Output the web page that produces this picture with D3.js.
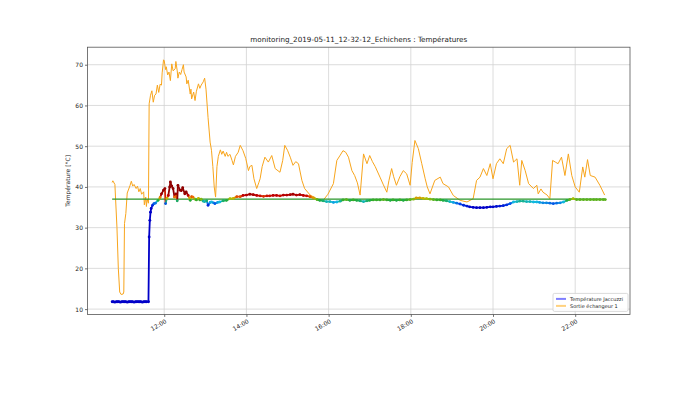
<html lang="fr">

<head>
  <meta charset="utf-8">
  <title>monitoring Echichens</title>
  <script src="https://cdn.jsdelivr.net/npm/d3@7"></script>
  <style>
    body { margin: 0; background: #fff; }
    text { font-family: "DejaVu Sans", sans-serif; fill: #222; }
  </style>
</head>

<body>
  <svg width="700" height="393"></svg>
  <script>
    const titre = "monitoring_2019-05-11_12-32-12_Echichens : Températures";
    const yTicks = [10, 20, 30, 40, 50, 60, 70];
    const xTicks = ["12:00", "14:00", "16:00", "18:00", "20:00", "22:00"];

    // consigne (ligne verte)
    const consigne = [["10:44", 37], ["22:44", 37]];

    // Température Jaccuzzi
    const jaccuzzi = [
      ["10:44", 11.8], ["10:46", 11.8], ["10:48", 11.7], ["10:50", 11.8], ["10:52", 11.8],
      ["10:54", 11.8], ["10:56", 11.7], ["10:58", 11.8], ["11:00", 11.8], ["11:02", 11.8],
      ["11:04", 11.8], ["11:06", 11.7], ["11:08", 11.8], ["11:10", 11.8], ["11:12", 11.8],
      ["11:14", 11.8], ["11:16", 11.7], ["11:18", 11.8], ["11:20", 11.8], ["11:22", 11.8],
      ["11:24", 11.8], ["11:26", 11.8], ["11:28", 11.7], ["11:30", 11.8], ["11:32", 11.8],
      ["11:34", 11.8], ["11:37", 11.8],
      ["11:38", 27.7], ["11:39", 31.8], ["11:40", 33.8], ["11:41", 34.7], ["11:43", 35.5],
      ["11:45", 35.9], ["11:47", 36.0], ["11:51", 36.7], ["11:54", 37.4], ["11:56", 38.3],
      ["11:59", 39.2], ["12:01", 39.6], ["12:02", 35.9], ["12:04", 37.2], ["12:06", 37.9],
      ["12:08", 40.0], ["12:09", 41.2], ["12:11", 40.2], ["12:13", 39.6], ["12:15", 37.5],
      ["12:17", 38.3], ["12:19", 36.6], ["12:20", 40.4], ["12:23", 39.2], ["12:25", 39.1],
      ["12:27", 39.8], ["12:30", 38.3], ["12:32", 38.8], ["12:35", 37.9], ["12:38", 36.7],
      ["12:40", 37.6], ["12:42", 37.5], ["12:45", 37.0], ["12:47", 36.8], ["12:50", 37.2],
      ["12:52", 36.8], ["12:54", 37.0], ["12:57", 36.5], ["12:59", 36.4], ["13:02", 36.6],
      ["13:04", 35.5], ["13:07", 36.2], ["13:09", 36.3], ["13:12", 36.1], ["13:14", 35.9],
      ["13:18", 36.2], ["13:21", 36.3], ["13:26", 36.6], ["13:31", 36.7], ["13:36", 37.1],
      ["13:41", 37.2], ["13:46", 37.6], ["13:51", 37.6], ["13:55", 37.9], ["14:00", 38.0],
      ["14:05", 38.2], ["14:10", 38.1], ["14:15", 37.9], ["14:20", 37.8], ["14:25", 37.7],
      ["14:30", 37.8], ["14:34", 37.8], ["14:39", 37.9], ["14:44", 37.9], ["14:49", 37.8],
      ["14:54", 38.0], ["14:59", 38.0], ["15:04", 38.1], ["15:08", 38.2], ["15:13", 38.0],
      ["15:18", 38.1], ["15:23", 37.9], ["15:28", 37.8], ["15:33", 37.6], ["15:38", 37.3],
      ["15:43", 36.9], ["15:47", 36.7], ["15:52", 36.6], ["15:57", 36.4], ["16:02", 36.4],
      ["16:07", 36.2], ["16:12", 36.3], ["16:17", 36.5], ["16:21", 36.8], ["16:26", 36.9],
      ["16:31", 36.7], ["16:36", 36.8], ["16:41", 36.7], ["16:46", 36.6], ["16:51", 36.4],
      ["16:56", 36.6], ["17:00", 36.7], ["17:05", 36.8], ["17:10", 36.8], ["17:15", 36.8],
      ["17:20", 36.9], ["17:25", 36.8], ["17:30", 36.7], ["17:34", 36.8], ["17:39", 36.7],
      ["17:44", 36.8], ["17:49", 36.7], ["17:54", 36.8], ["17:59", 36.9], ["18:04", 37.0],
      ["18:08", 37.3], ["18:13", 37.3], ["18:18", 37.2], ["18:23", 37.1], ["18:28", 37.0],
      ["18:33", 36.9], ["18:38", 36.8], ["18:43", 36.8], ["18:47", 36.7], ["18:52", 36.6],
      ["18:57", 36.4], ["19:02", 36.2], ["19:07", 36.0], ["19:12", 35.8], ["19:17", 35.5],
      ["19:22", 35.3], ["19:26", 35.1], ["19:31", 35.0], ["19:36", 34.9], ["19:41", 34.9],
      ["19:46", 34.9], ["19:51", 35.0], ["19:56", 35.1], ["20:00", 35.1], ["20:05", 35.2],
      ["20:10", 35.3], ["20:15", 35.4], ["20:20", 35.6], ["20:25", 35.9], ["20:30", 36.3],
      ["20:35", 36.4], ["20:39", 36.5], ["20:44", 36.5], ["20:49", 36.4], ["20:54", 36.4],
      ["20:59", 36.3], ["21:04", 36.3], ["21:08", 36.2], ["21:13", 36.1], ["21:18", 36.1],
      ["21:23", 36.0], ["21:28", 35.9], ["21:33", 36.0], ["21:38", 36.1], ["21:43", 36.3],
      ["21:48", 36.7], ["21:52", 36.9], ["21:57", 37.1], ["22:02", 36.9], ["22:07", 36.9],
      ["22:12", 36.9], ["22:17", 36.9], ["22:22", 36.9], ["22:27", 36.9], ["22:31", 36.9],
      ["22:36", 36.9], ["22:41", 36.9], ["22:44", 36.9]
    ];

    // Sortie échangeur 1
    const sortie = [
      ["10:44", 41.1], ["10:45", 41.5], ["10:48", 40.6], ["10:51", 30.0], ["10:53", 20.0],
      ["10:55", 14.2], ["10:57", 13.6], ["11:00", 13.7], ["11:01", 14.2], ["11:02", 31.0],
      ["11:04", 33.5], ["11:06", 38.5], ["11:10", 40.3], ["11:12", 41.4], ["11:14", 40.2],
      ["11:16", 40.6], ["11:19", 39.6], ["11:21", 40.2], ["11:23", 38.8], ["11:25", 39.6],
      ["11:27", 38.2], ["11:30", 38.8], ["11:31", 35.6], ["11:33", 37.5], ["11:34", 35.2],
      ["11:35", 37.0], ["11:37", 36.0], ["11:38", 60.4], ["11:40", 62.5], ["11:42", 63.6],
      ["11:44", 60.8], ["11:46", 62.5], ["11:48", 62.8], ["11:50", 65.0], ["11:52", 63.2],
      ["11:54", 65.2], ["11:56", 65.0], ["11:57", 68.0], ["11:59", 71.2], ["12:00", 71.0],
      ["12:02", 68.8], ["12:03", 69.5], ["12:05", 67.5], ["12:07", 68.2], ["12:09", 66.1],
      ["12:11", 70.2], ["12:13", 68.5], ["12:16", 69.0], ["12:17", 70.8], ["12:19", 68.5],
      ["12:20", 66.7], ["12:22", 68.2], ["12:24", 67.6], ["12:26", 68.8], ["12:28", 70.0],
      ["12:29", 68.2], ["12:32", 67.0], ["12:33", 65.3], ["12:35", 66.2], ["12:38", 62.8],
      ["12:39", 64.0], ["12:40", 61.6], ["12:43", 63.3], ["12:45", 61.2], ["12:47", 63.5],
      ["12:50", 65.3], ["12:52", 64.2], ["12:54", 65.0], ["12:57", 65.8], ["12:59", 66.7],
      ["13:01", 64.0], ["13:04", 57.0], ["13:07", 51.0], ["13:09", 49.0], ["13:11", 45.0],
      ["13:13", 40.0], ["13:15", 37.5], ["13:17", 45.0], ["13:19", 47.5], ["13:22", 49.1],
      ["13:24", 48.0], ["13:26", 48.8], ["13:29", 47.5], ["13:31", 48.5], ["13:33", 47.5],
      ["13:36", 48.0], ["13:39", 46.5], ["13:41", 45.4], ["13:44", 47.5], ["13:48", 48.5],
      ["13:51", 50.2], ["13:55", 48.9], ["13:59", 47.0], ["14:03", 44.0], ["14:05", 45.0],
      ["14:08", 45.3], ["14:11", 42.0], ["14:15", 39.6], ["14:18", 41.0], ["14:20", 42.0],
      ["14:23", 45.0], ["14:27", 47.3], ["14:32", 46.1], ["14:37", 47.7], ["14:42", 44.5],
      ["14:49", 43.6], ["14:53", 46.5], ["14:56", 50.2], ["15:00", 49.0], ["15:04", 47.3],
      ["15:08", 45.3], ["15:12", 46.2], ["15:16", 45.7], ["15:21", 41.6], ["15:25", 39.6],
      ["15:33", 38.0], ["15:43", 37.1], ["15:52", 36.7], ["15:59", 38.2], ["16:07", 40.8],
      ["16:12", 46.5], ["16:17", 47.8], ["16:21", 48.9], ["16:25", 48.5], ["16:29", 47.3],
      ["16:34", 44.0], ["16:38", 42.8], ["16:42", 41.0], ["16:46", 38.0], ["16:51", 48.1],
      ["16:56", 45.7], ["17:00", 47.7], ["17:04", 46.2], ["17:08", 45.0], ["17:15", 42.4],
      ["17:20", 40.5], ["17:25", 38.7], ["17:28", 41.5], ["17:32", 44.5], ["17:35", 42.5],
      ["17:39", 40.4], ["17:44", 42.5], ["17:49", 44.0], ["17:54", 43.2], ["17:59", 40.4],
      ["18:02", 46.0], ["18:06", 51.4], ["18:11", 49.4], ["18:16", 45.7], ["18:21", 42.0],
      ["18:24", 40.0], ["18:28", 38.3], ["18:35", 41.6], ["18:43", 42.4], ["18:47", 40.8],
      ["18:55", 40.0], ["19:02", 37.9], ["19:12", 36.7], ["19:22", 36.3], ["19:31", 37.1],
      ["19:36", 41.6], ["19:41", 42.4], ["19:46", 44.5], ["19:51", 42.8], ["19:56", 45.7],
      ["20:00", 42.0], ["20:05", 45.7], ["20:10", 46.9], ["20:15", 45.7], ["20:20", 49.4],
      ["20:25", 50.2], ["20:30", 46.1], ["20:35", 46.9], ["20:39", 40.4], ["20:42", 46.5],
      ["20:47", 44.0], ["20:52", 40.8], ["20:59", 39.6], ["21:04", 40.4], ["21:06", 38.3],
      ["21:10", 39.5], ["21:13", 38.7], ["21:19", 38.0], ["21:23", 37.1], ["21:27", 46.5],
      ["21:31", 46.1], ["21:35", 45.7], ["21:40", 47.3], ["21:45", 42.8], ["21:50", 48.1],
      ["21:55", 42.8], ["22:00", 40.0], ["22:06", 38.7], ["22:11", 44.9], ["22:14", 42.4],
      ["22:18", 46.7], ["22:22", 42.8], ["22:29", 42.4], ["22:36", 40.4], ["22:43", 38.0]
    ];

    const legendItems = ["Température Jaccuzzi", "Sortie échangeur 1"];

    const parseTime = d3.timeParse("%H:%M");
    const plotLeft = 87.5, plotRight = 630, plotTop = 47.2, plotBottom = 314.4;

    const svg = d3.select("svg");

    const x = d3.scaleTime()
      .domain([parseTime("10:08"), parseTime("23:20")])
      .range([plotLeft, plotRight]);
    const y = d3.scaleLinear()
      .domain([8.7, 74.3])
      .range([plotBottom, plotTop]);

    // échelle de couleur (bleu -> cyan -> vert -> jaune -> rouge foncé)
    const color = d3.scaleLinear()
      .domain([35.0, 35.8, 36.3, 36.75, 37.15, 37.5, 37.85, 38.4])
      .range(["#0000c8", "#0040e8", "#10b8e0", "#22aa30", "#bcc000", "#f07000", "#c40000", "#900000"])
      .clamp(true);

    // grid
    svg.append("g")
      .selectAll("line")
      .data(yTicks)
      .enter()
      .append("line")
      .attr("x1", plotLeft).attr("x2", plotRight)
      .attr("y1", d => y(d)).attr("y2", d => y(d))
      .attr("stroke", "#d3d3d3").attr("stroke-width", 0.8);
    svg.append("g")
      .selectAll("line")
      .data(xTicks)
      .enter()
      .append("line")
      .attr("x1", d => x(parseTime(d))).attr("x2", d => x(parseTime(d)))
      .attr("y1", plotTop).attr("y2", plotBottom)
      .attr("stroke", "#d3d3d3").attr("stroke-width", 0.8);

    const line = d3.line()
      .x(d => x(parseTime(d[0])))
      .y(d => y(d[1]));

    svg.append("path")
      .datum(sortie)
      .attr("d", line)
      .attr("fill", "none")
      .attr("stroke", "#f8a51c")
      .attr("stroke-width", 1);

    svg.append("path")
      .datum(consigne)
      .attr("d", line)
      .attr("fill", "none")
      .attr("stroke", "#2a962a")
      .attr("stroke-width", 1.2);

    // jaccuzzi : segments colorés
    const segments = d3.pairs(jaccuzzi);
    svg.append("g")
      .selectAll("line")
      .data(segments)
      .enter()
      .append("line")
      .attr("x1", d => x(parseTime(d[0][0])))
      .attr("y1", d => y(d[0][1]))
      .attr("x2", d => x(parseTime(d[1][0])))
      .attr("y2", d => y(d[1][1]))
      .attr("stroke", d => color((d[0][1] + d[1][1]) / 2))
      .attr("stroke-width", 1.8)
      .attr("stroke-linecap", "round");

    svg.append("g")
      .selectAll("circle")
      .data(jaccuzzi)
      .enter()
      .append("circle")
      .attr("cx", d => x(parseTime(d[0])))
      .attr("cy", d => y(d[1]))
      .attr("r", 1.4)
      .attr("fill", d => color(d[1]));

    // axes
    const yAxis = svg.append("g")
      .attr("transform", `translate(${plotLeft},0)`)
      .call(d3.axisLeft(y).tickValues(yTicks).tickSize(2.5).tickPadding(2).tickFormat(d3.format("d")));
    const xAxis = svg.append("g")
      .attr("transform", `translate(0,${plotBottom})`)
      .call(d3.axisBottom(x).tickValues(xTicks.map(parseTime)).tickSize(2.5).tickFormat(d3.timeFormat("%H:%M")));
    [yAxis, xAxis].forEach(a => {
      a.select(".domain").remove();
      a.selectAll("line").attr("stroke", "#333").attr("stroke-width", 0.7);
      a.selectAll("text").attr("font-size", 6).attr("font-family", "DejaVu Sans").attr("fill", "#222");
    });
    xAxis.selectAll("text")
      .attr("text-anchor", "end")
      .attr("dy", null)
      .attr("y", null)
      .attr("transform", "translate(0,4) rotate(-30)")
      .attr("dominant-baseline", "hanging");

    svg.append("rect")
      .attr("x", plotLeft).attr("y", plotTop)
      .attr("width", plotRight - plotLeft).attr("height", plotBottom - plotTop)
      .attr("fill", "none")
      .attr("stroke", "#555")
      .attr("stroke-width", 0.8);

    svg.append("text")
      .attr("x", (plotLeft + plotRight) / 2)
      .attr("y", plotTop - 5)
      .attr("text-anchor", "middle")
      .attr("font-size", 7.2)
      .text(titre);

    svg.append("text")
      .attr("transform", `translate(70,${(plotTop + plotBottom) / 2}) rotate(-90)`)
      .attr("text-anchor", "middle")
      .attr("font-size", 6)
      .text("Température [°C]");

    // legend
    const legend = svg.append("g").attr("transform", `translate(${plotRight - 77},${plotBottom - 21})`);
    legend.append("rect")
      .attr("width", 75).attr("height", 18)
      .attr("rx", 1.5)
      .attr("fill", "#fff").attr("fill-opacity", 0.85)
      .attr("stroke", "#d0d0d0").attr("stroke-width", 0.8);
    const legendColors = ["#0000ff", "orange"];
    legendItems.forEach((label, i) => {
      legend.append("line")
        .attr("x1", 3).attr("x2", 13)
        .attr("y1", 5.5 + i * 7).attr("y2", 5.5 + i * 7)
        .attr("stroke", legendColors[i]).attr("stroke-width", 2).attr("stroke-opacity", 0.5);
      legend.append("text")
        .attr("x", 17).attr("y", 5.5 + i * 7)
        .attr("dy", "0.35em")
        .attr("font-size", 5)
        .text(label);
    });
  </script>
</body>

</html>
